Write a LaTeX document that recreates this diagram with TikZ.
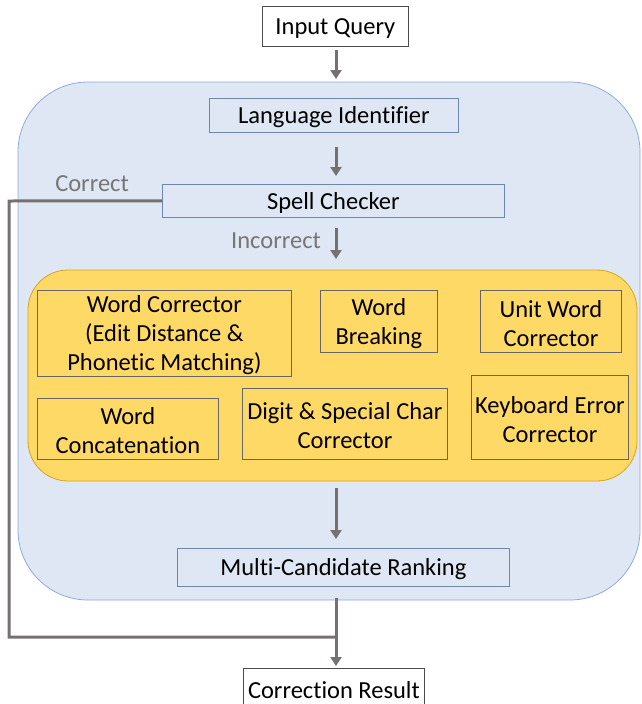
\documentclass[tikz,border=0pt]{standalone}
\usepackage{fontspec}
\setmainfont{Carlito}[Ligatures=NoCommon]
\usetikzlibrary{arrows.meta}
\definecolor{panelblue}{HTML}{DFE7F4}
\definecolor{paneledge}{HTML}{8FAADC}
\definecolor{boxedge}{HTML}{6F86B0}
\definecolor{gold}{HTML}{FFD966}
\definecolor{goldedge}{HTML}{D6A520}
\definecolor{flow}{HTML}{767171}
\definecolor{labelgray}{HTML}{767676}
\tikzset{
  x=1pt, y=-1pt,
  every node/.style={font=\fontsize{24.5}{29}\selectfont, text=black, inner sep=0pt},
  endbox/.style={draw=black!70, line width=0.8pt, fill=white},
  bluebox/.style={draw=boxedge, line width=0.8pt, fill=panelblue},
  goldbox/.style={draw=black!60, line width=0.8pt, fill=gold},
  boxtext/.style={align=center, yshift=-2pt, font=\fontsize{24.5}{29}\selectfont},
  flowarrow/.style={draw=flow, line width=3pt, -{Triangle[length=9pt,width=11pt]}},
  flowline/.style={draw=flow, line width=3pt},
  tag/.style={text=labelgray}
}
\begin{document}
\begin{tikzpicture}
\useasboundingbox (0,0) rectangle (642,704);

% outer light-blue panel and inner gold panel
\draw[fill=panelblue, draw=paneledge, line width=0.8pt, rounded corners=70pt] (18,82) rectangle (640,600);
\draw[fill=gold, draw=goldedge, line width=0.8pt, rounded corners=40pt] (28,270) rectangle (637,481);

% pipeline boxes
\node[endbox, minimum width=146, minimum height=40, anchor=north west] (iq) at (262,6) {};
\node[boxtext] at (iq.center) {Input Query};
\node[bluebox, minimum width=249, minimum height=34, anchor=north west] (li) at (209,98) {};
\node[boxtext] at (li.center) {Language Identifier};
\node[bluebox, minimum width=342, minimum height=33, anchor=north west] (sc) at (162,184) {};
\node[boxtext] at (sc.center) {Spell Checker};
\node[bluebox, minimum width=332, minimum height=38, anchor=north west] (mc) at (177,548) {};
\node[boxtext] at (mc.center) {Multi-Candidate Ranking};
\node[endbox, minimum width=181, minimum height=44, anchor=north west] (cr) at (243,668) {};
\node[boxtext] at ([yshift=-20pt]cr.north) {Correction Result};

% correctors inside the gold panel
\node[goldbox, minimum width=254, minimum height=86, anchor=north west] (wc) at (37,290) {};
\node[boxtext] at (wc.center) {Word Corrector\\(Edit Distance \&\\Phonetic Matching)};
\node[goldbox, minimum width=117, minimum height=62, anchor=north west] (wb) at (320,290) {};
\node[boxtext] at (wb.center) {Word\\Breaking};
\node[goldbox, minimum width=141, minimum height=62, anchor=north west] (uw) at (480,290) {};
\node[boxtext] at (uw.center) {Unit Word\\Corrector};
\node[goldbox, minimum width=181, minimum height=61, anchor=north west] (wcat) at (37,398) {};
\node[boxtext] at (wcat.center) {Word\\Concatenation};
\node[goldbox, minimum width=205, minimum height=71, anchor=north west] (ds) at (242,388) {};
\node[boxtext] at (ds.center) {Digit \& Special Char\\Corrector};
\node[goldbox, minimum width=157, minimum height=84, anchor=north west] (ke) at (471,375) {};
\node[boxtext] at (ke.center) {Keyboard Error\\Corrector};

% branch labels
\node[tag] (lc) at (92,184) {Correct};
\node[tag] (lic) at (276,241) {Incorrect};

% flow
\coordinate (a1) at (336,50);   \coordinate (b1) at (336,79);
\coordinate (a2) at (336,147);  \coordinate (b2) at (336,176);
\coordinate (a3) at (336,228);  \coordinate (b3) at (336,259);
\coordinate (a4) at (336,488);  \coordinate (b4) at (336,539);
\coordinate (a5) at (336,598);  \coordinate (b5) at (336,666);
\coordinate (join) at (336,637);
\draw[flowarrow] (a1) -- (b1);
\draw[flowarrow] (a2) -- (b2);
\draw[flowarrow] (a3) -- (b3);
\draw[flowarrow] (a4) -- (b4);
\draw[flowarrow] (a5) -- (b5);
\draw[flowline] (sc.west) -- (9,201) -- (9,637) -- (join);
\end{tikzpicture}
\end{document}
